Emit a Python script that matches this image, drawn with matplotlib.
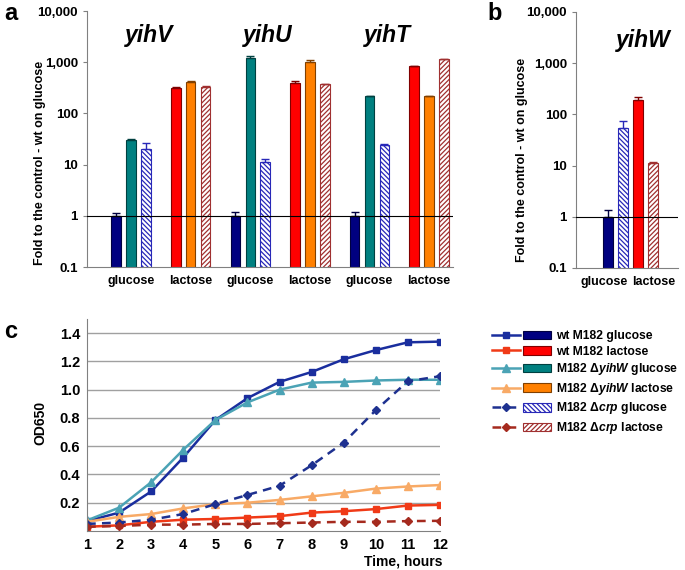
import numpy as np
import matplotlib
matplotlib.use("Agg")
import matplotlib.pyplot as plt
from matplotlib.lines import Line2D
from matplotlib.patches import Patch
from matplotlib.legend_handler import HandlerTuple

plt.rcParams["font.family"] = ["Liberation Sans", "DejaVu Sans"]
plt.rcParams["font.weight"] = "bold"
plt.rcParams["mathtext.fontset"] = "custom"
plt.rcParams["mathtext.it"] = "Liberation Sans:italic:bold"
plt.rcParams["mathtext.rm"] = "Liberation Sans:bold"
plt.rcParams["hatch.linewidth"] = 0.9

# --- panel a: fold change, genes yihV / yihU / yihT
genes = ["yihV", "yihU", "yihT"]
media = ["glucose", "lactose"]
wt_glc = [1.0, 1.0, 1.0]
wt_glc_err = [0.15, 0.2, 0.2]
dw_glc = [30, 1230, 215]
dw_glc_err = [2, 70, 7]
crp_glc = [20, 11, 24]
crp_glc_err = [7, 2, 1]
wt_lac = [320, 400, 840]
wt_lac_err = [8, 20, 20]
dw_lac = [415, 1000, 215]
dw_lac_err = [15, 100, 7]
crp_lac = [335, 370, 1150]
crp_lac_err = [10, 10, 30]

# --- panel b: yihW (wt glc, crp glc, wt lac, crp lac)
b_vals = [1.0, 55, 190, 11]
b_err = [0.38, 20, 25, 0.8]

# --- panel c: growth curves
hours = np.arange(1, 13)
od_wt_glc = [0.07, 0.13, 0.28, 0.52, 0.785, 0.94, 1.055, 1.125, 1.215, 1.28, 1.335, 1.34]
od_wt_lac = [0.03, 0.04, 0.065, 0.08, 0.085, 0.095, 0.105, 0.13, 0.14, 0.155, 0.18, 0.185]
od_dw_glc = [0.075, 0.165, 0.345, 0.575, 0.785, 0.91, 1.0, 1.05, 1.055, 1.065, 1.07, 1.07]
od_dw_lac = [0.065, 0.10, 0.12, 0.16, 0.19, 0.20, 0.22, 0.245, 0.27, 0.30, 0.315, 0.325]
od_crp_glc = [0.05, 0.06, 0.08, 0.12, 0.19, 0.255, 0.32, 0.465, 0.625, 0.855, 1.06, 1.095]
od_crp_lac = [0.03, 0.035, 0.045, 0.045, 0.05, 0.05, 0.055, 0.06, 0.065, 0.065, 0.07, 0.072]

# styles: (face, edge, hatch)
st_wt_glc = ("#000080", "#000040", None)
st_wt_lac = ("#FF0000", "#800000", None)
st_dw_glc = ("#008080", "#004040", None)
st_dw_lac = ("#FF8000", "#804000", None)
st_crp_glc = ("white", "#2828B8", "\\\\\\\\\\\\\\")
st_crp_lac = ("white", "#A03030", "///////")

yt = [0.1, 1, 10, 100, 1000, 10000]
ytl = ["0.1", "1", "10", "100", "1,000", "10,000"]

fig = plt.figure(figsize=(6.85, 5.7), dpi=100)


def bars(ax, x, vals, errs, st, w):
    ax.bar(x, vals, width=w, color=st[0], edgecolor=st[1], hatch=st[2],
           linewidth=0.8, zorder=2)
    ax.errorbar(x, vals, yerr=[np.zeros(len(vals)), errs], fmt="none",
                ecolor=st[1], elinewidth=1, capsize=3, capthick=1, zorder=3)


def log_axes(ax):
    ax.set_yscale("log")
    ax.set_ylim(0.1, 10000)
    ax.set_yticks(yt)
    ax.set_yticklabels(ytl)
    ax.minorticks_off()
    ax.tick_params(axis="y", labelsize=9.5, length=3, color="#808080")
    ax.tick_params(axis="x", labelsize=9, length=0, pad=6)
    for s in ["top", "right"]:
        ax.spines[s].set_visible(False)
    for s in ["left", "bottom"]:
        ax.spines[s].set_color("#808080")
    ax.axhline(1, color="black", lw=0.8, zorder=4)


# ---------- a
ax = fig.add_axes([87 / 685, 1 - 267 / 570, 366 / 685, 256 / 570])
g = np.arange(3) * 2
w = 0.16
d = 0.25
bars(ax, g - d, wt_glc, wt_glc_err, st_wt_glc, w)
bars(ax, g, dw_glc, dw_glc_err, st_dw_glc, w)
bars(ax, g + d, crp_glc, crp_glc_err, st_crp_glc, w)
bars(ax, g + 1 - d, wt_lac, wt_lac_err, st_wt_lac, w)
bars(ax, g + 1, dw_lac, dw_lac_err, st_dw_lac, w)
bars(ax, g + 1 + d, crp_lac, crp_lac_err, st_crp_lac, w)
log_axes(ax)
ax.set_xlim(-0.74, 5.4)
ax.set_xticks(np.arange(6))
ax.set_xticklabels(media * 3)
for i, gene in enumerate(genes):
    ax.text(2 * i + 0.3, 3300, gene, ha="center", va="center", fontsize=16.5,
            style="italic", weight="bold")
fig.text(40 / 685, 1 - 163 / 570, "Fold to the control - wt on glucose",
         rotation=90, ha="center", va="center", fontsize=9)

# ---------- b
axb = fig.add_axes([576 / 685, 1 - 268 / 570, 102 / 685, 256 / 570])
xb = np.arange(4)
for i, st in enumerate([st_wt_glc, st_crp_glc, st_wt_lac, st_crp_lac]):
    bars(axb, [xb[i]], [b_vals[i]], [b_err[i]], st, 0.65)
log_axes(axb)
axb.set_xlim(-2.15, 4.7)
axb.set_xticks([-0.27, 3.04])
axb.set_xticklabels(media)
axb.text(2.35, 2800, "yihW", ha="center", va="center", fontsize=16.5,
         style="italic", weight="bold")
fig.text(522 / 685, 1 - 160 / 570, "Fold to the control - wt on glucose",
         rotation=90, ha="center", va="center", fontsize=9)

# ---------- c
axc = fig.add_axes([87 / 685, 1 - 531 / 570, 353 / 685, 212 / 570])
lw = 1.8
l1, = axc.plot(hours, od_wt_glc, color="#1A2E9E", lw=lw, marker="s", ms=4.5)
l2, = axc.plot(hours, od_wt_lac, color="#F03A17", lw=lw, marker="s", ms=4.5)
l3, = axc.plot(hours, od_dw_glc, color="#4BA3B5", lw=lw, marker="^", ms=5.5)
l4, = axc.plot(hours, od_dw_lac, color="#F8AA66", lw=lw, marker="^", ms=5.5)
l5, = axc.plot(hours, od_crp_glc, color="#1E3190", lw=lw, marker="D", ms=4,
               ls=(0, (3.5, 2.5)))
l6, = axc.plot(hours, od_crp_lac, color="#A52A1E", lw=lw, marker="D", ms=4,
               ls=(0, (3.5, 2.5)))
axc.set_xlim(1, 12)
axc.set_ylim(0, 1.5)
axc.set_xticks(hours)
axc.set_yticks([0.2, 0.4, 0.6, 0.8, 1.0, 1.2, 1.4])
axc.yaxis.set_major_formatter(plt.FormatStrFormatter("%.1f"))
axc.grid(axis="y", color="#A0A0A0", lw=1)
axc.set_axisbelow(True)
axc.tick_params(labelsize=10.5, length=0, pad=5)
for s in ["top", "right"]:
    axc.spines[s].set_visible(False)
for s in ["left", "bottom"]:
    axc.spines[s].set_color("#808080")
fig.text(40 / 685, 1 - 423 / 570, "OD650", rotation=90, ha="center",
         va="center", fontsize=10)
fig.text(443 / 685, 1 - 562 / 570, "Time, hours", ha="right", va="center",
         fontsize=10)

# legend
def patch(st):
    return Patch(facecolor=st[0], edgecolor=st[1], hatch=st[2], lw=0.8)

handles = [(l1, patch(st_wt_glc)), (l2, patch(st_wt_lac)),
           (l3, patch(st_dw_glc)), (l4, patch(st_dw_lac)),
           (l5, patch(st_crp_glc)), (l6, patch(st_crp_lac))]
labels = ["wt M182 glucose", "wt M182 lactose",
          "M182 $\\mathit{ΔyihW}$ glucose", "M182 $\\mathit{ΔyihW}$ lactose",
          "M182 $\\mathit{Δcrp}$ glucose", "M182 $\\mathit{Δcrp}$ lactose"]
fig.legend(handles, labels, loc="upper left",
           bbox_to_anchor=(492 / 685, 1 - 330 / 570), frameon=False,
           fontsize=8.7, handlelength=4.9, handletextpad=0.4,
           labelspacing=0.3, borderpad=0, borderaxespad=0,
           handler_map={tuple: HandlerTuple(ndivide=None, pad=0.25)})

# panel letters
fig.text(4 / 685, 1 - 14 / 570, "a", fontsize=17, va="center")
fig.text(487 / 685, 1 - 14 / 570, "b", fontsize=17, va="center")
fig.text(4 / 685, 1 - 331 / 570, "c", fontsize=17, va="center")

fig.savefig("out.png", dpi=100)
